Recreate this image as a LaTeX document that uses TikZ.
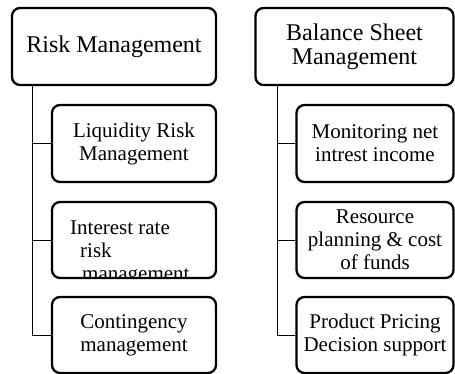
\documentclass[tikz,border=0pt]{standalone}
\usepackage{fontspec}
\setmainfont{Liberation Serif}
\usepackage{tikz}
\tikzset{
  headbox/.style = {draw, rectangle, rounded corners=8pt, line width=2.3pt,
                    align=center, inner sep=0pt,
                    font=\fontsize{24}{24}\selectfont},
  subbox/.style  = {draw, rectangle, rounded corners=8pt, line width=2.3pt,
                    align=center, inner sep=0pt, minimum height=76pt,
                    font=\fontsize{21}{23}\selectfont},
  subline/.style = {anchor=base west, inner sep=0pt,
                    font=\fontsize{21}{23}\selectfont},
  link/.style    = {line width=1pt}
}

\begin{document}
\begin{tikzpicture}[x=1pt, y=-1pt]
\useasboundingbox (0,0) rectangle (455,374);

% left column
\node[headbox, minimum width=204pt, minimum height=77pt] (rm) at (114,46.5) {Risk Management};
\node[subbox, minimum width=164pt, minimum height=77pt] (lrm) at (134,143.5) {Liquidity Risk\\Management};
\node[subbox, minimum width=164pt] (irr) at (134,240) {};
\node[subbox, minimum width=164pt] (cm) at (134,335) {Contingency\\management};

% text runs past the bottom of its box
\begin{scope}
\clip ([yshift=1.1pt]irr.south west) rectangle (irr.north east);
\node[subline] (irr1) at (70,234) {Interest rate};
\node[subline] (irr2) at (80,257) {risk};
\node[subline] (irr3) at (82,280) {management};
\end{scope}

\coordinate (ltrunk) at (32,85);
\draw[link] (ltrunk) |- (lrm.west);
\draw[link] (ltrunk) |- (irr.west);
\draw[link] (ltrunk) |- (cm.west);

% right column
\node[headbox, minimum width=198pt, minimum height=77pt] (bsm) at (354.5,46.5) {Balance Sheet\\Management};
\node[subbox, minimum width=157pt, minimum height=77pt] (mni) at (375,143.5) {Monitoring net\\intrest income};
\node[subbox, minimum width=157pt] (rpc) at (375,240) {Resource\\planning \& cost\\of funds};
\node[subbox, minimum width=157pt] (ppd) at (375,335) {Product Pricing\\Decision support};

\coordinate (rtrunk) at (277,85);
\draw[link] (rtrunk) |- (mni.west);
\draw[link] (rtrunk) |- (rpc.west);
\draw[link] (rtrunk) |- (ppd.west);
\end{tikzpicture}
\end{document}
